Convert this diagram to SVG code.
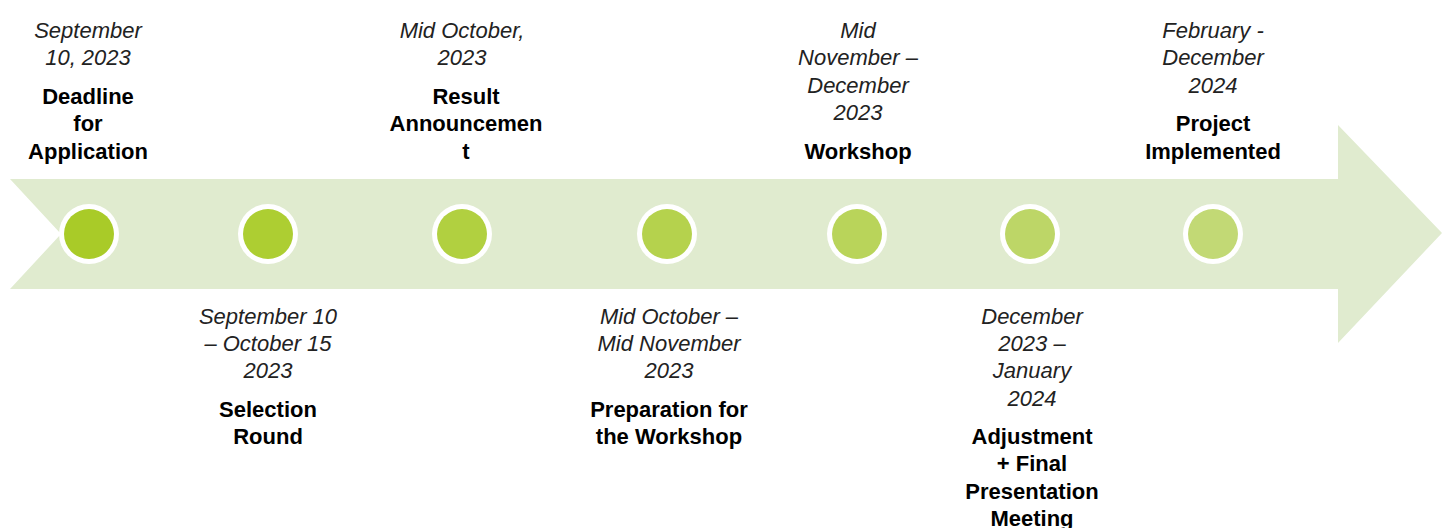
<svg xmlns="http://www.w3.org/2000/svg" width="1442" height="528" viewBox="0 0 1442 528">
<style>
.d{font-family:"Liberation Sans",Arial,sans-serif;font-style:italic;font-size:22px;fill:#222;text-anchor:middle}
.t{font-family:"Liberation Sans",Arial,sans-serif;font-weight:bold;font-size:22px;fill:#000;text-anchor:middle}
.ring{fill:#fff}
</style>
<rect width="1442" height="528" fill="#fff"/>
<g id="arrow">
<polygon points="10,179 1338,179 1338,125 1442,233 1338,343 1338,289 10,289 61,234" fill="#e0ebcf"/>
</g>
<g id="dots">
<g id="dot1"><circle class="ring" cx="89" cy="234" r="30"/><circle cx="89" cy="234" r="25" fill="#a9cb28"/></g>
<g id="dot2"><circle class="ring" cx="268" cy="234" r="30"/><circle cx="268" cy="234" r="25" fill="#adce32"/></g>
<g id="dot3"><circle class="ring" cx="462" cy="234" r="30"/><circle cx="462" cy="234" r="25" fill="#b1d040"/></g>
<g id="dot4"><circle class="ring" cx="667" cy="234" r="30"/><circle cx="667" cy="234" r="25" fill="#b5d24d"/></g>
<g id="dot5"><circle class="ring" cx="857" cy="234" r="30"/><circle cx="857" cy="234" r="25" fill="#b9d45a"/></g>
<g id="dot6"><circle class="ring" cx="1030" cy="234" r="30"/><circle cx="1030" cy="234" r="25" fill="#bdd667"/></g>
<g id="dot7"><circle class="ring" cx="1213" cy="234" r="30"/><circle cx="1213" cy="234" r="25" fill="#c2d975"/></g>
</g>
<g id="n1">
<text class="d" x="88" y="38">September</text>
<text class="d" x="88" y="65">10, 2023</text>
<text class="t" x="88" y="104">Deadline</text>
<text class="t" x="88" y="131">for</text>
<text class="t" x="88" y="159">Application</text>
</g>
<g id="n2">
<text class="d" x="268" y="324">September 10</text>
<text class="d" x="268" y="351">– October 15</text>
<text class="d" x="268" y="378">2023</text>
<text class="t" x="268" y="417">Selection</text>
<text class="t" x="268" y="444">Round</text>
</g>
<g id="n3">
<text class="d" x="462" y="38">Mid October,</text>
<text class="d" x="462" y="65">2023</text>
<text class="t" x="466" y="104">Result</text>
<text class="t" x="466" y="131">Announcemen</text>
<text class="t" x="466" y="159">t</text>
</g>
<g id="n4">
<text class="d" x="669" y="324">Mid October –</text>
<text class="d" x="669" y="351">Mid November</text>
<text class="d" x="669" y="378">2023</text>
<text class="t" x="669" y="417">Preparation for</text>
<text class="t" x="669" y="444">the Workshop</text>
</g>
<g id="n5">
<text class="d" x="858" y="38">Mid</text>
<text class="d" x="858" y="65">November –</text>
<text class="d" x="858" y="93">December</text>
<text class="d" x="858" y="120">2023</text>
<text class="t" x="858" y="159">Workshop</text>
</g>
<g id="n6">
<text class="d" x="1032" y="324">December</text>
<text class="d" x="1032" y="351">2023 –</text>
<text class="d" x="1032" y="378">January</text>
<text class="d" x="1032" y="406">2024</text>
<text class="t" x="1032" y="444">Adjustment</text>
<text class="t" x="1032" y="471">+ Final</text>
<text class="t" x="1032" y="499">Presentation</text>
<text class="t" x="1032" y="526">Meeting</text>
</g>
<g id="n7">
<text class="d" x="1213" y="38">February -</text>
<text class="d" x="1213" y="65">December</text>
<text class="d" x="1213" y="93">2024</text>
<text class="t" x="1213" y="131">Project</text>
<text class="t" x="1213" y="159">Implemented</text>
</g>
</svg>
